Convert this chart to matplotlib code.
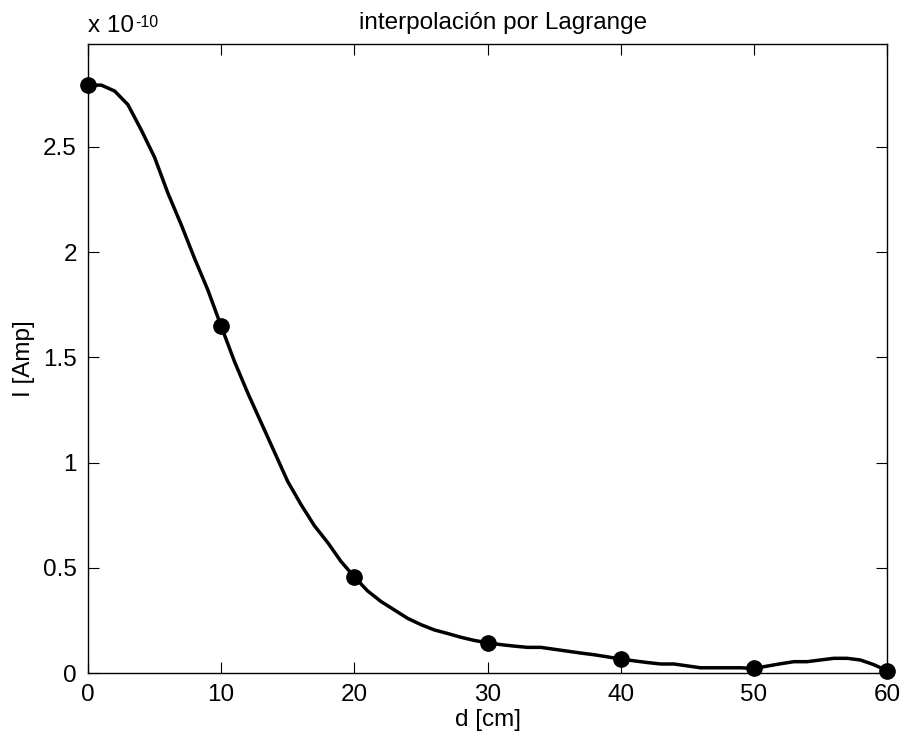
import matplotlib
matplotlib.use("Agg")
import matplotlib.pyplot as plt
from matplotlib.ticker import FuncFormatter

plt.rcParams['font.family'] = ['Liberation Sans', 'DejaVu Sans']

# nodos medidos (I en unidades de 1e-10 A)
d_nodes = [0, 10, 20, 30, 40, 50, 60]
i_nodes = [2.793, 1.648, 0.457, 0.144, 0.0665, 0.022, 0.011]

# polinomio de Lagrange evaluado en d = 0..60
d_interp = list(range(61))
i_interp = [2.793, 2.793, 2.765, 2.70, 2.58, 2.45, 2.28, 2.13, 1.97, 1.82,
            1.648, 1.48, 1.33, 1.19, 1.05, 0.91, 0.80, 0.70, 0.62, 0.53,
            0.457, 0.39, 0.34, 0.30, 0.26, 0.23, 0.205, 0.188, 0.17, 0.155,
            0.144, 0.135, 0.128, 0.122, 0.122, 0.113, 0.104, 0.095, 0.087, 0.077,
            0.0665, 0.058, 0.050, 0.043, 0.043, 0.034, 0.025, 0.025, 0.025, 0.025,
            0.022, 0.033, 0.044, 0.054, 0.054, 0.062, 0.070, 0.070, 0.062, 0.040,
            0.011]

y_ticks = [0, 0.5, 1, 1.5, 2, 2.5]
x_ticks = [0, 10, 20, 30, 40, 50, 60]

fig = plt.figure(figsize=(9.07, 7.47), dpi=100)
ax = fig.add_axes([0.097, 0.099, 0.881, 0.842])

ax.plot(d_interp, i_interp, color='black', linewidth=2.5)
ax.plot(d_nodes, i_nodes, 'o', color='black', markersize=11, clip_on=False)

ax.set_xlim(0, 60)
ax.set_ylim(0, 2.988)
ax.set_xticks(x_ticks)
ax.set_yticks(y_ticks)
ax.yaxis.set_major_formatter(FuncFormatter(lambda v, p: '%g' % v))
ax.tick_params(direction='in', top=True, right=True, length=8, width=0.8,
               labelsize=17.5, pad=8)
for s in ax.spines.values():
    s.set_linewidth(1.0)

ax.set_title('interpolación por Lagrange', fontsize=17.5, pad=11, x=0.519)
ax.set_xlabel('d [cm]', fontsize=17.5, labelpad=2)
ax.set_ylabel('I [Amp]', fontsize=17.5, labelpad=6)

# factor de escala estilo MATLAB
t = ax.text(0, 1.012, 'x 10', transform=ax.transAxes,
            fontsize=17.5, ha='left', va='bottom')
ax.annotate('-10', xy=(1, 1), xycoords=t, xytext=(1, 0),
            textcoords='offset points', fontsize=11.5, ha='left', va='top')

fig.savefig('out.png', dpi=100)
